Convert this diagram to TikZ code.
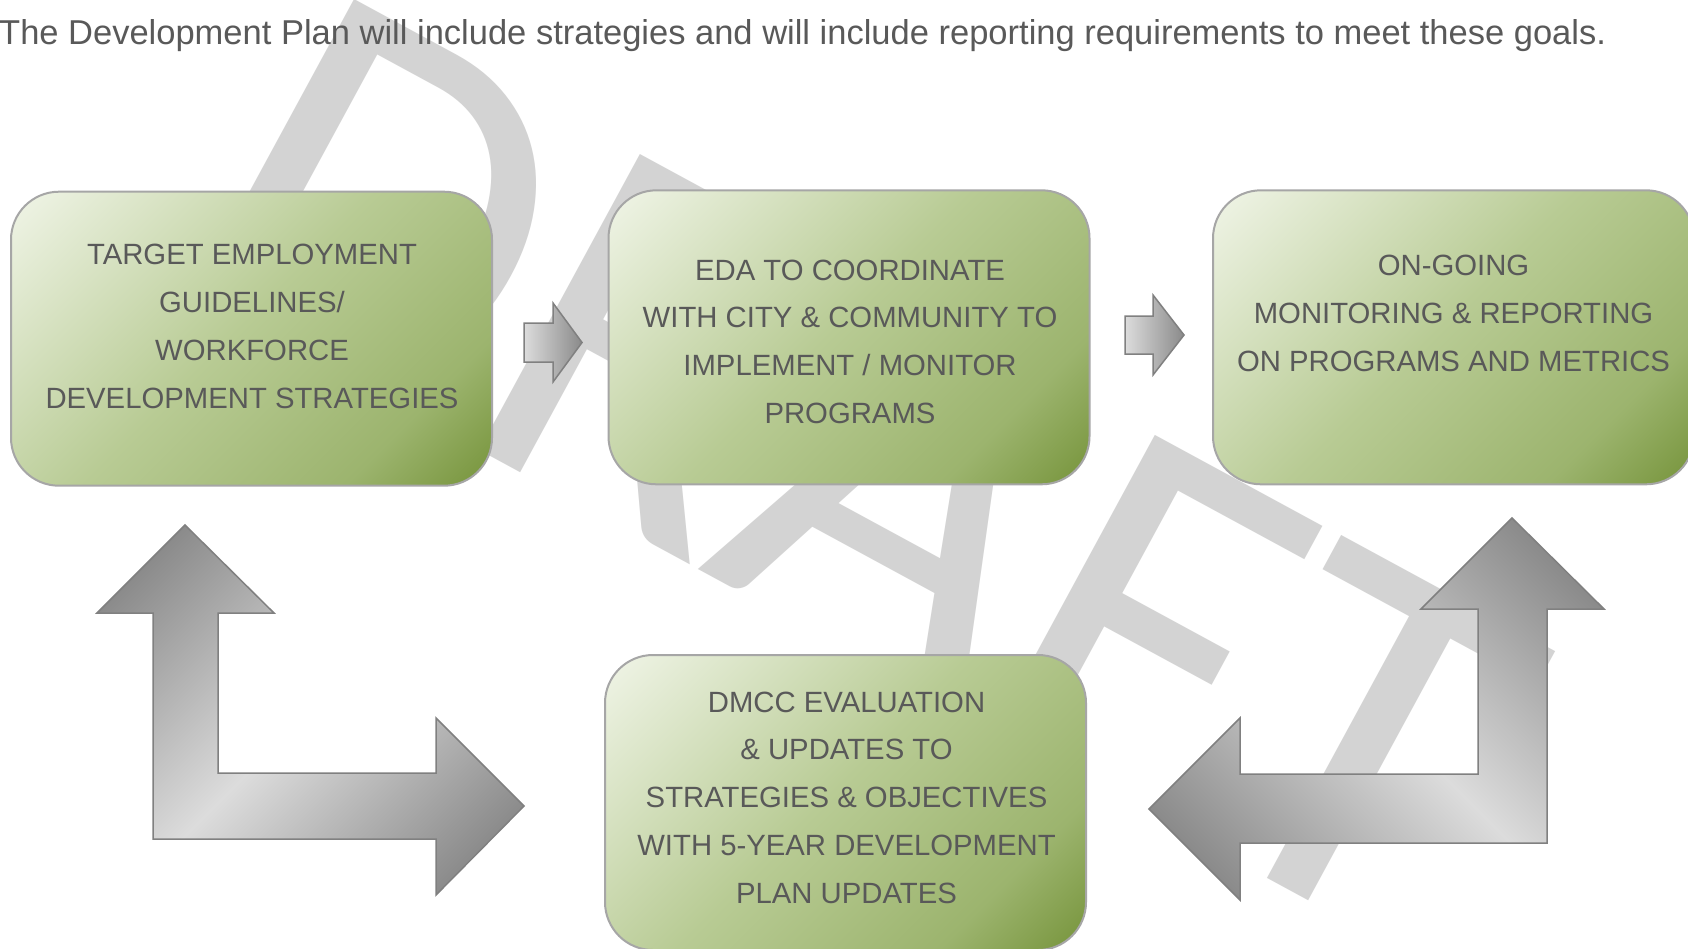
\documentclass[tikz,border=0pt]{standalone}
\usepackage{fontspec}
\setmainfont{Liberation Sans}
\newfontfamily\wmfont{Carlito}

% palette
\definecolor{inkgray}{RGB}{89,89,89}
\definecolor{wmgray}{RGB}{211,211,211}
\definecolor{gLight}{RGB}{238,243,228}
\definecolor{gMid}{RGB}{184,203,148}
\definecolor{gMidDark}{RGB}{156,180,110}
\definecolor{gDark}{RGB}{116,146,56}
\definecolor{aDark}{RGB}{138,138,138}
\definecolor{aLight}{RGB}{220,220,220}
\definecolor{boxline}{RGB}{166,166,166}
\definecolor{arrowline}{RGB}{128,128,128}

% gradients
\pgfdeclarehorizontalshading{greenbox}{100bp}{color(0bp)=(gLight); color(16bp)=(gLight); color(48bp)=(gMid); color(72bp)=(gMidDark); color(86bp)=(gDark); color(100bp)=(gDark)}
\pgfdeclarehorizontalshading{steelL}{100bp}{color(0bp)=(aDark); color(22bp)=(aDark); color(50bp)=(aLight); color(78bp)=(aDark); color(100bp)=(aDark)}
\pgfdeclarehorizontalshading{steelS}{100bp}{color(0bp)=(aLight); color(25bp)=(aLight); color(75bp)=(aDark); color(100bp)=(aDark)}

\tikzset{
  stage/.style={draw=boxline, line width=2pt, rounded corners=48pt, shade, shading=greenbox,
    shading angle=-45, minimum width=481pt, minimum height=294pt, inner sep=0pt},
  stagetext/.style={text=inkgray, align=center, inner sep=0pt,
    font=\fontsize{29.3}{47.9}\selectfont},
  bigarrow/.style={draw=arrowline, line width=1.5pt, shade, shading=steelL},
  smallarrow/.style={draw=arrowline, line width=1.5pt, shade, shading=steelS, shading angle=0},
  watermark/.style={text=wmgray, inner sep=0pt, rotate=-28.5,
    font=\wmfont\fontsize{525}{525}\selectfont},
  lead/.style={text=inkgray, inner sep=0pt, anchor=base west,
    font=\fontsize{34.5}{40}\selectfont}
}

\begin{document}
\begin{tikzpicture}[x=1pt, y=-1pt]
  \useasboundingbox (0,0) rectangle (1688,948);
  \clip (0,0) rectangle (1688,948);
  \fill[white] (0,0) rectangle (1688,948);

  % background watermark
  \node[watermark] (wm) at (862,467) {DRAFT};

  % introductory sentence
  \node[lead] (intro) at (-1,44.5) {The Development Plan will include strategies and will include reporting requirements to meet these goals.};

  % stage boxes
  \node[stage] (b1) at (251.5,338.7) {};
  \node[stage] (b2) at (849,337.3) {};
  \node[stage] (b3) at (1453.5,337.3) {};
  \node[stage, minimum height=295pt] (b4) at (845.5,802.5) {};

  \node[stagetext] (t1) at (252,326.2) {TARGET EMPLOYMENT\\GUIDELINES/\\WORKFORCE\\DEVELOPMENT STRATEGIES};
  \node[stagetext] (t2) at (850,341.8) {EDA TO COORDINATE\\WITH CITY \& COMMUNITY TO\\IMPLEMENT / MONITOR\\PROGRAMS};
  \node[stagetext] (t3) at (1453.5,313.8) {ON-GOING\\MONITORING \& REPORTING\\ON PROGRAMS AND METRICS};
  \node[stagetext] (t4) at (846.5,797.7) {DMCC EVALUATION\\\& UPDATES TO\\STRATEGIES \& OBJECTIVES\\WITH 5-YEAR DEVELOPMENT\\PLAN UPDATES};

  % flow arrows between the upper boxes
  \path[smallarrow] (524,323) -- (553,323) -- (553,303) -- (582,342.5) -- (553,382)
    -- (553,362) -- (524,362) -- cycle;
  \path[smallarrow] (1125,316) -- (1153,316) -- (1153,295) -- (1184,335) -- (1153,375)
    -- (1153,354) -- (1125,354) -- cycle;

  % bent feedback arrows around the lower box
  \path[bigarrow, shading angle=-45] (185,525) -- (274,613) -- (218,613) -- (218,773)
    -- (436,773) -- (436,718) -- (524,806) -- (436,895) -- (436,839) -- (153,839)
    -- (153,613) -- (97,613) -- cycle;
  \path[bigarrow, shading angle=45] (1512,518) -- (1604,609) -- (1547,609) -- (1547,843)
    -- (1240,843) -- (1240,900) -- (1149,809) -- (1240,718) -- (1240,774) -- (1478,774)
    -- (1478,609) -- (1421,609) -- cycle;
\end{tikzpicture}
\end{document}
